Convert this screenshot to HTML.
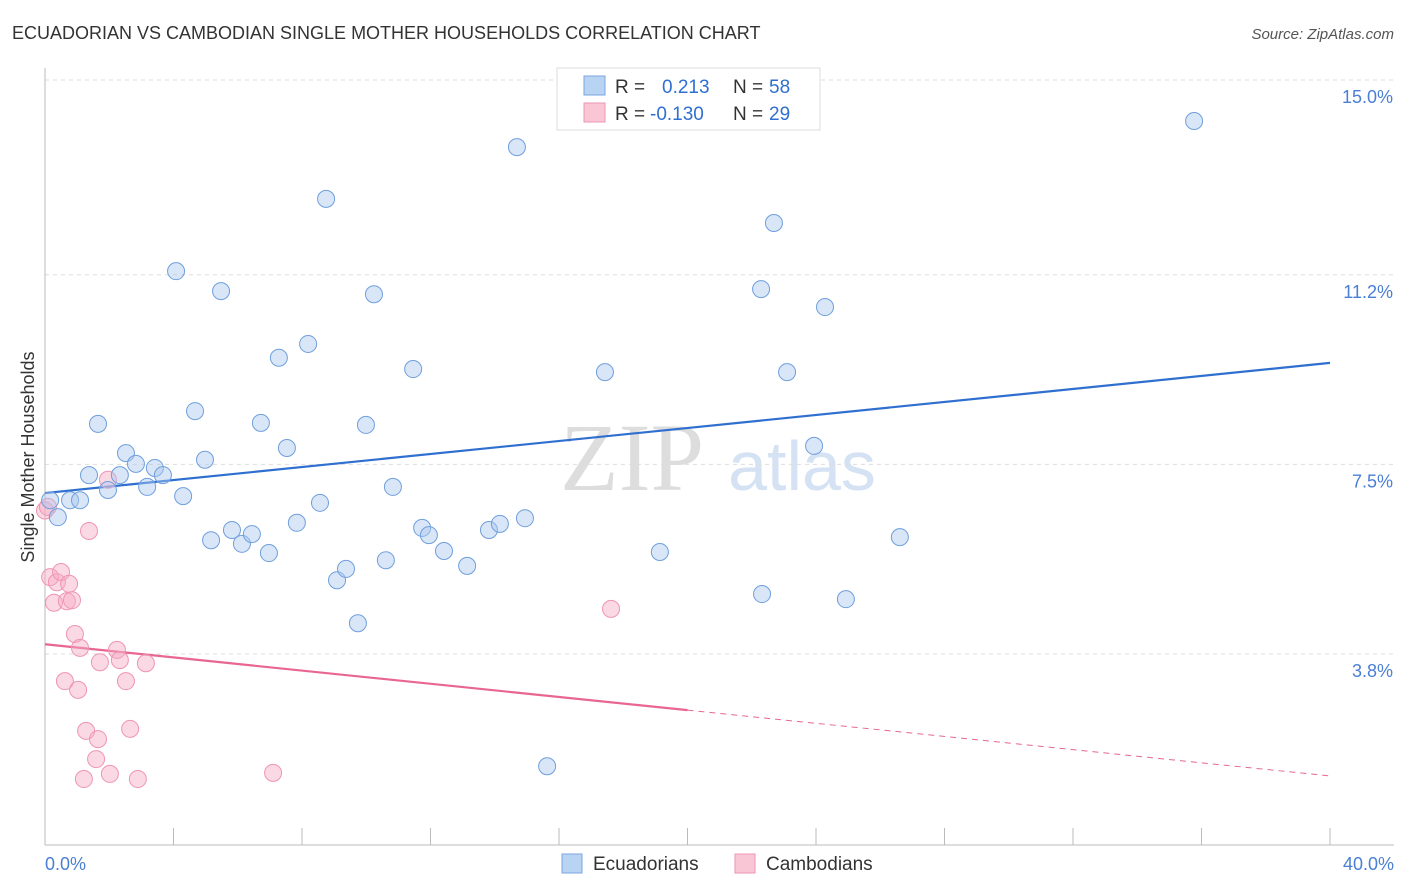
<!DOCTYPE html>
<html><head><meta charset="utf-8"><style>
body{margin:0;background:#fff;font-family:"Liberation Sans",sans-serif;}
svg{display:block}
</style></head><body>
<svg id="chart" width="1406" height="892" xmlns="http://www.w3.org/2000/svg">
<text x="12" y="39" font-size="18" fill="#333">ECUADORIAN VS CAMBODIAN SINGLE MOTHER HOUSEHOLDS CORRELATION CHART</text>
<text x="1394" y="39" font-size="15" fill="#555" font-style="italic" text-anchor="end">Source: ZipAtlas.com</text>
<g>
<text x="632" y="490" font-size="96" font-family="Liberation Serif,serif" fill="#ddd" text-anchor="middle">ZIP</text>
<text x="802" y="490" font-size="70" fill="#d4e2f4" text-anchor="middle">atlas</text>
</g>
<g id="grid"></g><g id="axes"></g><g id="trends"></g><g id="points"></g>
<text transform="translate(34,457) rotate(-90)" font-size="18" fill="#333" text-anchor="middle">Single Mother Households</text>
<text x="45" y="870" font-size="18" fill="#4a7fd4">0.0%</text>
<text x="1394" y="870" font-size="18" fill="#4a7fd4" text-anchor="end">40.0%</text>
<g>
<rect x="557" y="68" width="263" height="62" fill="#fff" stroke="#ddd"/>
<rect x="584" y="76" width="21" height="19" fill="#b9d3f3" stroke="#7aa6e0"/>
<rect x="584" y="103" width="21" height="19" fill="#f9c6d6" stroke="#ee95b3"/>
<text x="615" y="93" font-size="19" fill="#333">R =</text>
<text x="662" y="93" font-size="19" fill="#2f6fd0">0.213</text>
<text x="733" y="93" font-size="19" fill="#333">N =</text>
<text x="769" y="93" font-size="19" fill="#2f6fd0">58</text>
<text x="615" y="120" font-size="19" fill="#333">R =</text>
<text x="650" y="120" font-size="19" fill="#2f6fd0">-0.130</text>
<text x="733" y="120" font-size="19" fill="#333">N =</text>
<text x="769" y="120" font-size="19" fill="#2f6fd0">29</text>
</g>
<g>
<rect x="562" y="854" width="20" height="19" fill="#b9d3f3" stroke="#7aa6e0"/>
<text x="593" y="870" font-size="19" fill="#333">Ecuadorians</text>
<rect x="735" y="854" width="20" height="19" fill="#f9c6d6" stroke="#ee95b3"/>
<text x="766" y="870" font-size="19" fill="#333">Cambodians</text>
</g>
</svg>
<script>
const yTicks=[15.0,11.2,7.5,3.8];
const yTickLabels=["15.0%","11.2%","7.5%","3.8%"];
const xTicks=[0,4,8,12,16,20,24,28,32,36,40];
const ecuX=[0.16,0.40,0.78,1.09,1.37,1.65,1.96,2.33,2.52,2.83,3.18,3.42,3.67,4.08,4.30,4.67,4.98,5.17,5.48,5.82,6.13,6.44,6.72,6.97,7.28,7.53,7.84,8.19,8.56,8.75,9.09,9.37,9.74,9.99,10.24,10.61,10.83,11.46,11.74,11.95,12.42,13.14,13.82,14.16,14.69,14.94,15.63,17.43,19.14,22.29,22.32,22.69,23.10,23.94,24.28,24.93,26.61,35.77];
const ecuY=[6.80,6.47,6.80,6.80,7.29,8.29,7.00,7.29,7.72,7.51,7.06,7.43,7.29,11.27,6.88,8.54,7.59,6.02,10.88,6.22,5.95,6.14,8.31,5.77,9.58,7.82,6.36,9.85,6.75,12.68,5.24,5.46,4.40,8.27,10.82,5.63,7.06,9.36,6.26,6.12,5.81,5.52,6.22,6.34,13.69,6.45,1.61,9.30,5.79,10.92,4.97,12.21,9.30,7.86,10.57,4.87,6.08,14.20];
const camX=[0.0,0.09,0.16,0.28,0.37,0.50,0.62,0.68,0.75,0.84,0.93,1.03,1.09,1.21,1.28,1.37,1.59,1.65,1.71,1.96,2.02,2.24,2.33,2.52,2.65,2.89,3.14,7.10,17.62];
const camY=[6.60,6.67,5.30,4.80,5.20,5.40,3.27,4.83,5.17,4.85,4.19,3.10,3.92,1.36,2.30,6.20,1.75,2.14,3.64,7.20,1.46,3.88,3.68,3.27,2.34,1.36,3.62,1.48,4.68];
const ecuTrend=[6.94,9.48];
const camTrend=[3.99,1.42];
const NS="http://www.w3.org/2000/svg";
const xs=v=>45+v*32.125, ys=v=>80+(15-v)*51.25;
function mk(t,a,p){const e=document.createElementNS(NS,t);for(const k in a)e.setAttribute(k,a[k]);document.getElementById(p).appendChild(e);return e;}
yTicks.forEach((t,i)=>{
 const l=mk('line',{x1:45,x2:1394,y1:ys(t),y2:ys(t),stroke:'#ddd','stroke-dasharray':'4,4'},'grid');
 
 
 const tx=mk('text',{x:1393,y:ys(t)+23,'font-size':18,fill:'#4a7fd4','text-anchor':'end'},'grid');
 tx.textContent=yTickLabels[i];
 
 
});
const ya=mk('line',{x1:45,x2:45,y1:68,y2:845,stroke:'#bbb'},'axes');


const xa=mk('line',{x1:45,x2:1394,y1:845,y2:845,stroke:'#bbb'},'axes');


xTicks.forEach(t=>{
 const l=mk('line',{x1:xs(t),x2:xs(t),y1:828,y2:845,stroke:'#bbb'},'axes');
 
 
});
const bt=mk('line',{x1:xs(0),y1:ys(ecuTrend[0]),x2:xs(40),y2:ys(ecuTrend[1]),stroke:'#2f6fd0','stroke-width':2.2},'trends');


const camAt=x=>camTrend[0]+(camTrend[1]-camTrend[0])*x/40;
const pt=mk('line',{x1:xs(0),y1:ys(camAt(0)),x2:xs(20),y2:ys(camAt(20)),stroke:'#e8668f','stroke-width':2.2},'trends');


const pd=mk('line',{x1:xs(20),y1:ys(camAt(20)),x2:xs(40),y2:ys(camAt(40)),stroke:'#e8668f','stroke-width':1,'stroke-dasharray':'6,5'},'trends');


camX.forEach((x,i)=>{
 const c=mk('circle',{cx:xs(x),cy:ys(camY[i]),r:8.5,fill:'rgba(246,170,196,0.45)',stroke:'#ee95b3','stroke-width':1},'points');
 
 
});
ecuX.forEach((x,i)=>{
 const c=mk('circle',{cx:xs(x),cy:ys(ecuY[i]),r:8.5,fill:'rgba(170,200,240,0.45)',stroke:'#6f9fdc','stroke-width':1},'points');
 
 
});
</script>
</body></html>
